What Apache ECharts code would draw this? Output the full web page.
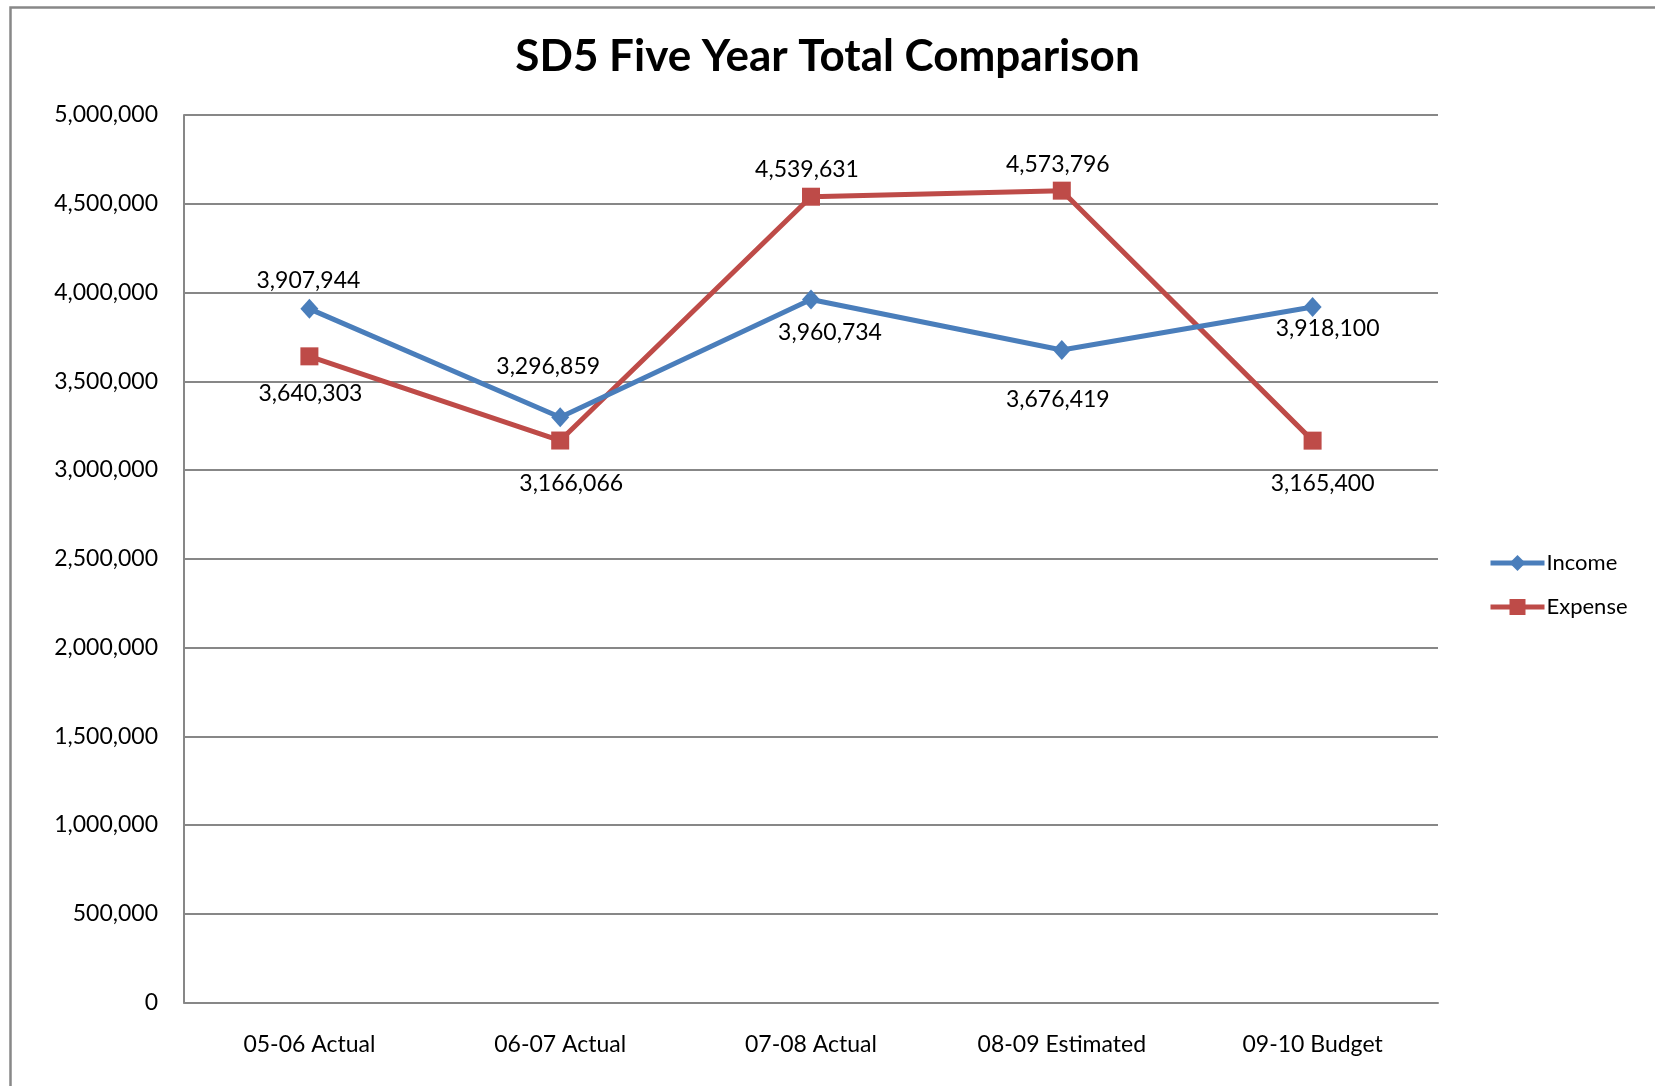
<!DOCTYPE html>
<html>
<head>
<meta charset="utf-8">
<script src="https://cdn.jsdelivr.net/npm/echarts@6/dist/echarts.min.js"></script>
<style>
html,body{margin:0;padding:0;background:#fff;}
#chart{width:1655px;height:1086px;}
</style>
</head>
<body>
<div id="chart"></div>
<script>
var titleText = 'SD5 Five Year Total Comparison';
var categories = ['05-06 Actual', '06-07 Actual', '07-08 Actual', '08-09 Estimated', '09-10 Budget'];
var incomeValues = [3907944, 3296859, 3960734, 3676419, 3918100];
var expenseValues = [3640303, 3166066, 4539631, 4573796, 3165400];
var yMin = 0, yMax = 5000000, yInterval = 500000;

// label placement (style only)
var incomeLabelOffsets = [[-1, -28], [-12, -51], [19, 33], [-4, 50], [15, 22]];
var expenseLabelOffsets = [[1, 37], [11, 43], [-4, -27], [-4, -26], [10, 43]];

var fmt = function (v) { return Number(v).toLocaleString('en-US'); };
var FONT = 'Lato';

function buildData(values, offsets) {
  return values.map(function (v, i) {
    return { value: v, label: { offset: offsets[i] } };
  });
}

var chart = echarts.init(document.getElementById('chart'), null, { renderer: 'canvas' });
var option = {
  backgroundColor: '#ffffff',
  animation: false,
  title: {
    text: titleText,
    left: 'center',
    top: 28,
    textStyle: { fontFamily: FONT, fontSize: 44, fontWeight: 'bold', color: '#000', lineHeight: 48 }
  },
  graphic: [{
    type: 'rect',
    left: 8, top: 5,
    shape: { x: 0, y: 0, width: 2000, height: 2000 },
    style: { fill: 'none', stroke: '#888888', lineWidth: 2.5 },
    silent: true
  }],
  legend: {
    orient: 'vertical',
    left: 1483,
    top: 547,
    itemWidth: 54,
    itemHeight: 20,
    itemGap: 22,
    data: ['Income', 'Expense'],
    lineStyle: { width: 5 },
    textStyle: { fontFamily: FONT, fontSize: 22, color: '#000', padding: [0, 0, 0, -3] }
  },
  grid: { left: 184, top: 115, right: 217, bottom: 83.5, containLabel: false },
  xAxis: {
    type: 'category',
    data: categories,
    boundaryGap: true,
    axisLine: { show: true, lineStyle: { color: '#878787', width: 2 } },
    axisTick: { show: false },
    axisLabel: { fontFamily: FONT, fontSize: 23, color: '#000', margin: 31, interval: 0 },
    splitLine: { show: false }
  },
  yAxis: {
    type: 'value',
    min: yMin, max: yMax, interval: yInterval,
    axisLine: { show: true, lineStyle: { color: '#878787', width: 2 } },
    axisTick: { show: false },
    axisLabel: { fontFamily: FONT, fontSize: 23, color: '#000', margin: 26, formatter: fmt },
    splitLine: { show: true, lineStyle: { color: '#878787', width: 2 } }
  },
  series: [
    {
      name: 'Income',
      type: 'line',
      data: buildData(incomeValues, incomeLabelOffsets),
      symbol: 'diamond',
      symbolSize: [18, 20],
      showAllSymbol: true,
      lineStyle: { color: '#4A7EBB', width: 5 },
      itemStyle: { color: '#4A7EBB' },
      label: {
        show: true, position: 'inside',
        fontFamily: FONT, fontSize: 23, color: '#000',
        formatter: function (p) { return fmt(p.value); }
      },
      z: 3
    },
    {
      name: 'Expense',
      type: 'line',
      data: buildData(expenseValues, expenseLabelOffsets),
      symbol: 'rect',
      symbolSize: 18,
      showAllSymbol: true,
      lineStyle: { color: '#BE4B48', width: 5 },
      itemStyle: { color: '#BE4B48' },
      label: {
        show: true, position: 'inside',
        fontFamily: FONT, fontSize: 23, color: '#000',
        formatter: function (p) { return fmt(p.value); }
      },
      z: 2
    }
  ]
};
chart.setOption(option);
</script>
</body>
</html>
